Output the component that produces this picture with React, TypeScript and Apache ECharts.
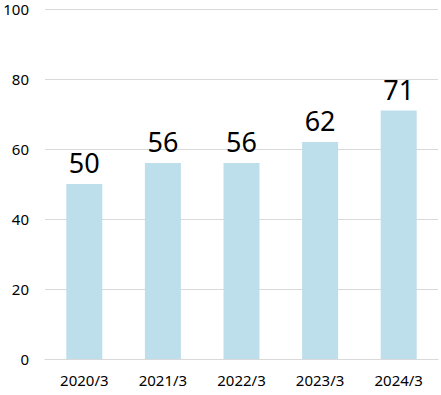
import React, { useEffect, useRef } from "react";
import * as echarts from "echarts";

const categories = ["2020/3", "2021/3", "2022/3", "2023/3", "2024/3"];
const values = [50, 56, 56, 62, 71];
const yMin = 0;
const yMax = 100;
const yInterval = 20;

export default function App() {
  const ref = useRef<HTMLDivElement>(null);
  useEffect(() => {
    document.body.style.margin = "0";
    const chart = echarts.init(ref.current!, null, { renderer: "svg" });
    chart.setOption({
      animation: false,
      grid: { left: 45, right: 3, top: 9, bottom: 36 },
      xAxis: {
        type: "category",
        data: categories,
        axisLine: { show: true, lineStyle: { color: "#D9D9D9" } },
        axisTick: { show: false },
        axisLabel: { color: "#000", fontSize: 15, fontFamily: "Noto Sans", margin: 13 },
      },
      yAxis: {
        type: "value",
        min: yMin,
        max: yMax,
        interval: yInterval,
        axisLine: { show: false },
        axisTick: { show: false },
        splitLine: { lineStyle: { color: "#D9D9D9" } },
        axisLabel: { color: "#000", fontSize: 15, fontFamily: "Noto Sans", margin: 16 },
      },
      series: [
        {
          type: "bar",
          data: values,
          barWidth: 36,
          itemStyle: { color: "#BDDFEB" },
          label: {
            show: true,
            position: "top",
            distance: 8,
            color: "#000",
            fontSize: 27,
            fontFamily: "Noto Sans",
          },
        },
      ],
    });
    return () => chart.dispose();
  }, []);
  return <div ref={ref} style={{ width: 441, height: 395 }} />;
}
